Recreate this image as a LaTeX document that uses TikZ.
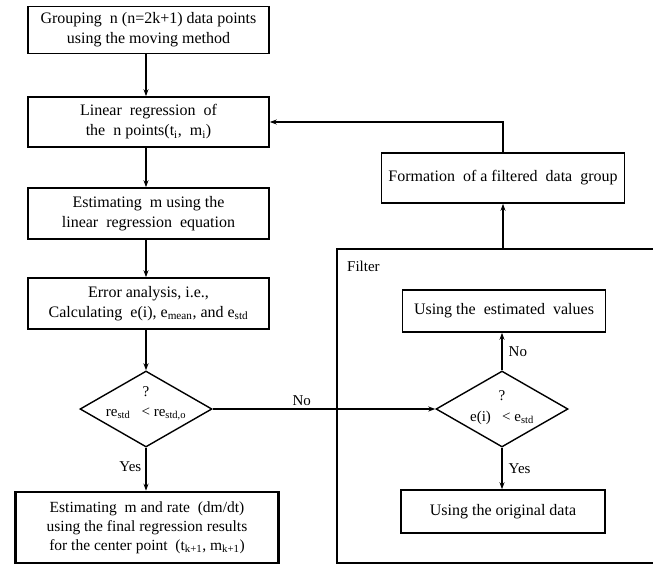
\documentclass[tikz,border=0pt]{standalone}
\usepackage{fontspec}
\setmainfont{Liberation Serif}
\usetikzlibrary{arrows.meta,shapes.geometric}
\newcommand\mysub[1]{\textsubscript{#1}}
\begin{document}
\begin{tikzpicture}[x=1pt,y=-1pt,
  box/.style={draw,line width=1.6pt,rectangle,inner sep=0pt,align=center,font=\fontsize{16}{20}\selectfont},
  dia/.style={draw,diamond,line width=1.4pt,inner sep=0pt,minimum width=132,minimum height=76},
  arr/.style={line width=1.4pt,-{Stealth[length=7pt,width=5pt]}},
  ln/.style={line width=1.4pt},
  lbl/.style={font=\fontsize{15}{18}\selectfont,inner sep=1pt}]
\useasboundingbox (0,0) rectangle (653,565);
% left column
\node[box,minimum width=241,minimum height=47] (b1) at (148.5,30) {Grouping\ \ n\ (n=2k+1)\ data\ points\\using the moving method};
\node[box,minimum width=241,minimum height=50] (b2) at (148.5,122) {Linear\ \ regression\ \ of\\the\ \ n\ points(t\mysub{i},\ \ m\mysub{i})};
\node[box,minimum width=241,minimum height=51] (b3) at (148.5,213.5) {Estimating\ \ m using the\\linear\ \ regression\ \ equation};
\node[box,minimum width=241,minimum height=51] (b4) at (148.5,303.5) {Error analysis, i.e.,\\Calculating\ \ e(i), e\mysub{mean}, and e\mysub{std}};
\node[dia] (d1) at (146,409) {};
\node[lbl] (q1) at (146,392) {?};
\node[lbl] (t1) at (146,414) {re\mysub{std}\ \ \ < re\mysub{std,o}};
\node[box,line width=2.6pt,minimum width=263,minimum height=71,font=\fontsize{15.5}{19}\selectfont] (b5) at (147,527.5) {Estimating\ \ m and rate\ \ (dm/dt)\\using the final regression results\\for the center point\ \ (t\mysub{k+1}, m\mysub{k+1})};
% right side
\node[box,minimum width=243,minimum height=50] (form) at (503,178) {Formation\ \ of a filtered\ \ data\ \ group};
\draw[ln] (653,249) -- (337,249) coordinate (ftl) -- (337,563) -- (653,563);
\coordinate (ftop) at (503,249);
\node[lbl,anchor=west] (flab) at (346,266) {Filter};
\node[box,minimum width=203,minimum height=42] (est) at (504,311) {Using the\ \ estimated\ \ values};
\node[dia] (d2) at (502,409) {};
\node[lbl] (q2) at (502,396) {?};
\node[lbl] (t2) at (502,418) {e(i)\ \ \ < e\mysub{std}};
\node[box,minimum width=204,minimum height=43] (orig) at (503,511.5) {Using the original data};
% connectors
\draw[arr] (b1.south -| 146,0) -- (b2.north -| 146,0);
\draw[arr] (b2.south -| 146,0) -- (b3.north -| 146,0);
\draw[arr] (b3.south -| 146,0) -- (b4.north -| 146,0);
\draw[arr] (b4.south -| 146,0) -- (d1.north);
\draw[arr] (d1.south) -- node[lbl,left=3pt,pos=0.45] (yes1) {Yes} (b5.north -| 146,0);
\draw[arr] (d1.east) -- node[lbl,above=2pt,pos=0.4] (no1) {No} (d2.west);
\draw[arr] (d2.north) -- node[lbl,right=5pt] (no2) {No} (est.south -| d2.north);
\draw[arr] (d2.south) -- node[lbl,right=5pt] (yes2) {Yes} (orig.north -| d2.south);
\draw[arr] (ftop) -- (form.south -| ftop);
\draw[arr] (form.north -| ftop) |- (b2.east);
\end{tikzpicture}
\end{document}
